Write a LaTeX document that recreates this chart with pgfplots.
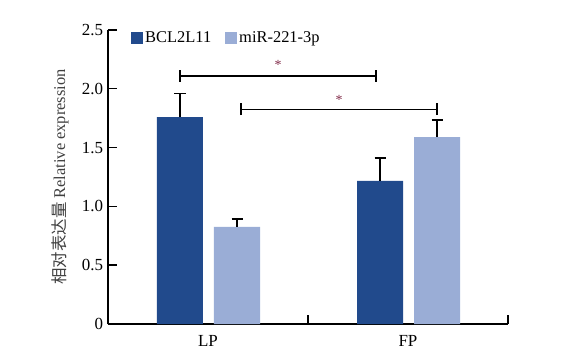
\documentclass[border=0pt]{standalone}
\usepackage{fontspec}
\setmainfont{Liberation Serif}
\newfontfamily\cjk{Noto Sans CJK SC}
\usepackage{pgfplots}
\pgfplotsset{compat=1.18}
\definecolor{cdark}{RGB}{33,74,140}
\definecolor{clight}{RGB}{154,173,214}
\definecolor{cstar}{RGB}{130,45,75}
\begin{document}
\begin{tikzpicture}[font=\fontsize{16.5}{19}\selectfont]
\path[use as bounding box] (-108bp,-40bp) rectangle (473bp,324bp);
\begin{axis}[
  scale only axis, width=400bp, height=294bp,
  xmin=0, xmax=2, ymin=0, ymax=2.5,
  axis lines=left,
  axis line style={-, line width=1.4bp, black},
  tick style={line width=1.4bp, black},
  tick align=inside,
  major tick length=9bp,
  ytick={0,0.5,1,1.5,2,2.5},
  yticklabels={0,0.5,1.0,1.5,2.0,2.5},
  xtick={0,1,2},
  xticklabels={},
  extra x ticks={0.5,1.5},
  extra x tick labels={LP,FP},
  extra x tick style={tick style={draw=none}, tick label style={yshift=-8bp}},
  every tick label/.append style={font=\fontsize{17}{19}\selectfont},
  yticklabel style={xshift=-1.5bp},
  ylabel={\color{black!75}{\cjk 相对表达量} Relative expression},
  ylabel style={at={(axis description cs:-0.12,0.5)}, anchor=center, font=\fontsize{16.5}{19}\selectfont},
  legend style={at={(axis description cs:0.05,0.973)}, anchor=west, draw=none, fill=none,
    legend columns=2, /tikz/every even column/.append style={column sep=12bp},
    nodes={inner sep=2bp}, font=\fontsize{16.5}{19}\selectfont},
  legend image code/.code={\fill[#1, draw=none] (0bp,-6bp) rectangle (12bp,6bp);},
  clip=false,
]
\addplot[ybar, bar width=0.23, bar shift=0pt, fill=cdark, draw=none,
  error bars/.cd, y dir=plus, y explicit,
  error bar style={line width=1.4bp, black},
  error mark options={line width=1.4bp, black, mark size=5.5bp, rotate=90}]
  coordinates {(0.36,1.76) +- (0,0.20) (1.36,1.216) +- (0,0.196)};
\addlegendentry{BCL2L11}
\addplot[ybar, bar width=0.23, bar shift=0pt, fill=clight, draw=none,
  error bars/.cd, y dir=plus, y explicit,
  error bar style={line width=1.4bp, black},
  error mark options={line width=1.4bp, black, mark size=5.5bp, rotate=90}]
  coordinates {(0.645,0.825) +- (0,0.068) (1.645,1.59) +- (0,0.145)};
\addlegendentry{miR-221-3p}
\draw[line width=1.4bp] (axis cs:0.36,2.06) -- (axis cs:0.36,2.158)
  (axis cs:0.36,2.109) -- (axis cs:1.34,2.109)
  (axis cs:1.34,2.06) -- (axis cs:1.34,2.158);
\draw[line width=1.4bp] (axis cs:0.665,1.777) -- (axis cs:0.665,1.875)
  (axis cs:0.665,1.826) -- (axis cs:1.645,1.826)
  (axis cs:1.645,1.777) -- (axis cs:1.645,1.875);
\node[anchor=north, inner sep=0pt, text=cstar, font=\fontsize{14}{16}\selectfont] at (axis cs:0.85,2.245) {*};
\node[anchor=north, inner sep=0pt, text=cstar, font=\fontsize{14}{16}\selectfont] at (axis cs:1.155,1.947) {*};
\end{axis}
\end{tikzpicture}
\end{document}
